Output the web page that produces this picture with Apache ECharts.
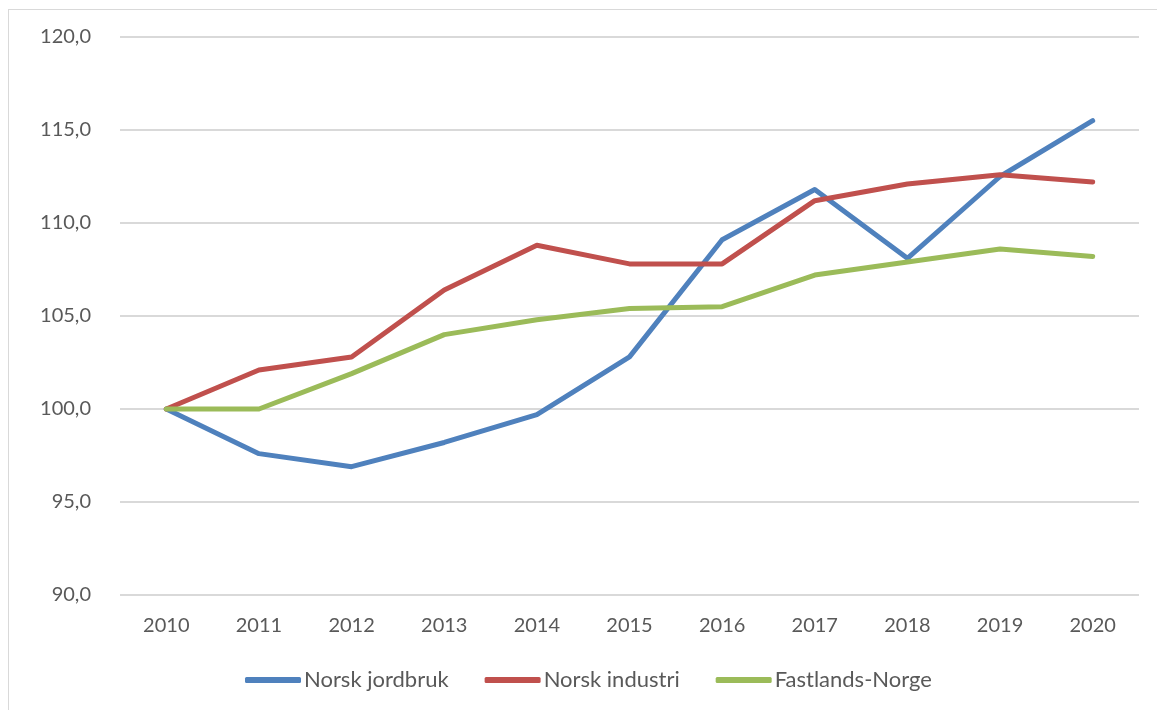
<!DOCTYPE html>
<html>
<head>
<meta charset="utf-8">
<script src="https://cdn.jsdelivr.net/npm/echarts@6/dist/echarts.min.js"></script>
<style>
  html, body { margin: 0; padding: 0; background: #fff; }
  #frame { position: absolute; left: 8px; top: 9px; width: 1160px; height: 710px; border: 1px solid #d9d9d9; }
  #main { position: absolute; left: 0; top: 0; width: 1157px; height: 710px; }
</style>
</head>
<body>
<div id="frame"></div>
<div id="main"></div>
<script>
  // år og indeksverdier (2010 = 100)
  var years = ['2010', '2011', '2012', '2013', '2014', '2015', '2016', '2017', '2018', '2019', '2020'];
  var jordbruk = [100.0, 97.6, 96.9, 98.2, 99.7, 102.8, 109.1, 111.8, 108.1, 112.5, 115.5];
  var industri = [100.0, 102.1, 102.8, 106.4, 108.8, 107.8, 107.8, 111.2, 112.1, 112.6, 112.2];
  var fastland = [100.0, 100.0, 101.9, 104.0, 104.8, 105.4, 105.5, 107.2, 107.9, 108.6, 108.2];
  var seriesNames = ['Norsk jordbruk', 'Norsk industri', 'Fastlands-Norge'];

  var chartDom = document.getElementById('main');
  var myChart = echarts.init(chartDom);
  var font = 'Lato, "Open Sans", sans-serif';

  function lineSeries(name, data) {
    return {
      name: name,
      type: 'line',
      data: data,
      showSymbol: false,
      symbol: 'none',
      lineStyle: { width: 5, cap: 'round', join: 'round' },
      animation: false
    };
  }

  var option = {
    color: ['#4F81BD', '#C0504D', '#9BBB59'],
    textStyle: { fontFamily: font },
    grid: { left: 120, right: 18, top: 37, bottom: 115 },
    legend: {
      data: seriesNames,
      bottom: 14,
      left: 240,
      itemWidth: 56,
      itemHeight: 6,
      itemGap: 36,
      icon: 'roundRect',
      textStyle: { color: '#595959', fontSize: 22, fontFamily: font, padding: [0, 0, 0, -2] }
    },
    xAxis: {
      type: 'category',
      data: years,
      boundaryGap: true,
      axisLine: { show: false },
      axisTick: { show: false },
      axisLabel: { color: '#595959', fontSize: 20, margin: 21 }
    },
    yAxis: {
      type: 'value',
      min: 90,
      max: 120,
      interval: 5,
      axisLine: { show: false },
      axisTick: { show: false },
      splitLine: { lineStyle: { color: '#d9d9d9', width: 2 } },
      axisLabel: {
        color: '#595959',
        fontSize: 20,
        margin: 29,
        formatter: function (v) { return v.toFixed(1).replace('.', ','); }
      }
    },
    series: [
      lineSeries(seriesNames[0], jordbruk),
      lineSeries(seriesNames[1], industri),
      lineSeries(seriesNames[2], fastland)
    ]
  };

  option && myChart.setOption(option);
</script>
</body>
</html>
